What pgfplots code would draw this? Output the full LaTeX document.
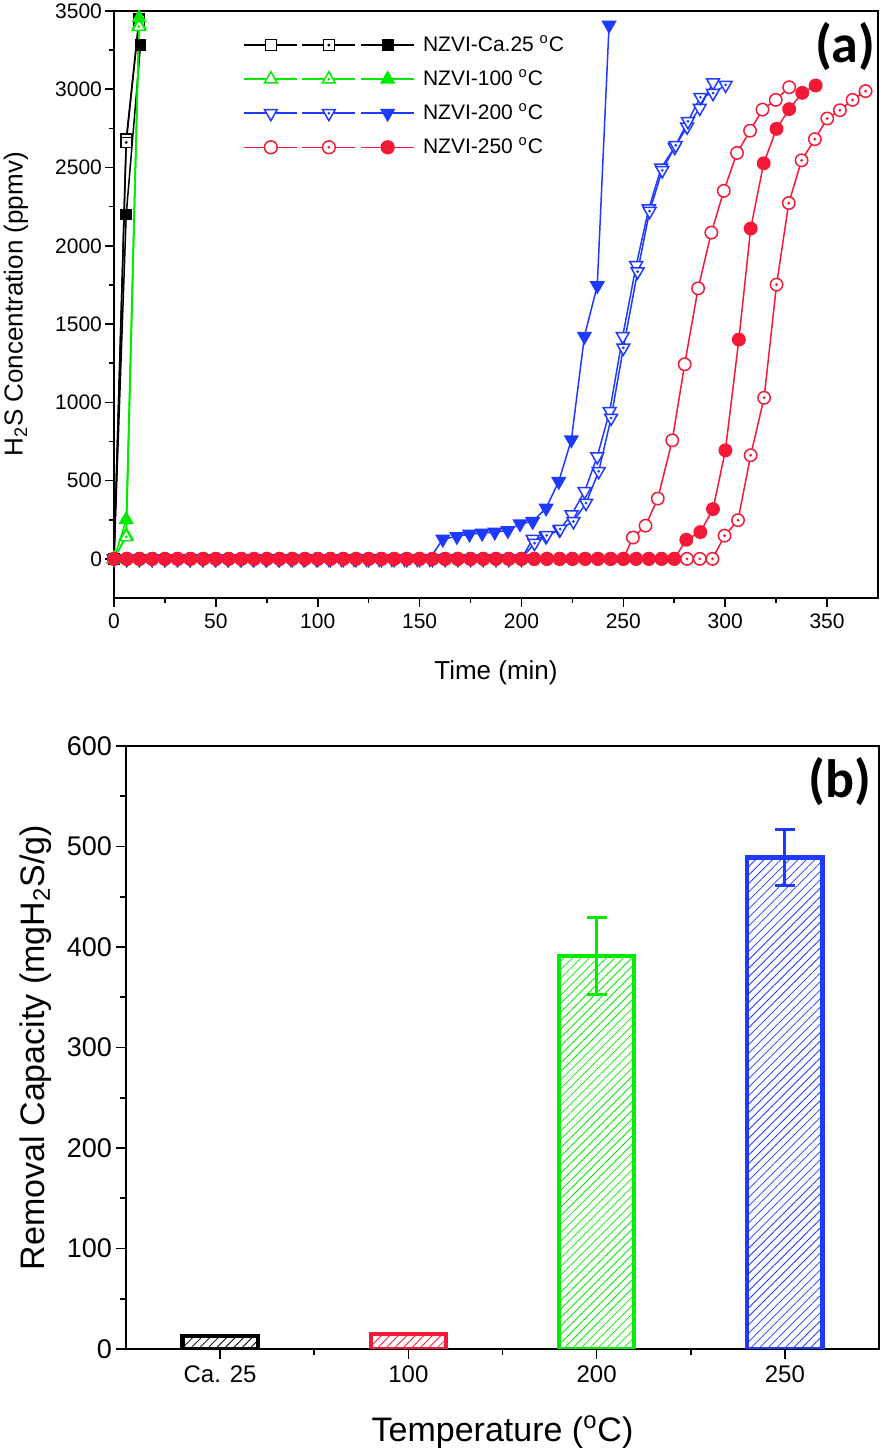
\documentclass[border=0pt]{standalone}
\usepackage{fontspec}
\setmainfont{Liberation Sans}
\newfontfamily\carlito{Carlito}
\usepackage{pgfplots}
\pgfplotsset{compat=1.18}
\usetikzlibrary{patterns.meta}
\definecolor{cRed}{RGB}{245,25,55}
\definecolor{cBlue}{RGB}{31,58,255}
\definecolor{cGreen}{RGB}{0,235,0}

\pgfdeclareplotmark{sqdot}{%
  \pgfpathrectangle{\pgfqpoint{-\pgfplotmarksize}{-\pgfplotmarksize}}{\pgfqpoint{2\pgfplotmarksize}{2\pgfplotmarksize}}%
  \pgfusepathqfillstroke
  \pgfpathcircle{\pgfpointorigin}{0.25pt}\pgfusepathqstroke}
\pgfdeclareplotmark{tup}{%
  \pgfpathmoveto{\pgfqpointpolar{90}{1.16\pgfplotmarksize}}%
  \pgfpathlineto{\pgfqpointpolar{-30}{1.16\pgfplotmarksize}}%
  \pgfpathlineto{\pgfqpointpolar{210}{1.16\pgfplotmarksize}}%
  \pgfpathclose\pgfusepathqfillstroke}
\pgfdeclareplotmark{tupdot}{%
  \pgfpathmoveto{\pgfqpointpolar{90}{1.16\pgfplotmarksize}}%
  \pgfpathlineto{\pgfqpointpolar{-30}{1.16\pgfplotmarksize}}%
  \pgfpathlineto{\pgfqpointpolar{210}{1.16\pgfplotmarksize}}%
  \pgfpathclose\pgfusepathqfillstroke
  \pgfpathcircle{\pgfpointorigin}{0.25pt}\pgfusepathqstroke}
\pgfdeclareplotmark{tdn}{%
  \pgfpathmoveto{\pgfqpointpolar{270}{1.16\pgfplotmarksize}}%
  \pgfpathlineto{\pgfqpointpolar{30}{1.16\pgfplotmarksize}}%
  \pgfpathlineto{\pgfqpointpolar{150}{1.16\pgfplotmarksize}}%
  \pgfpathclose\pgfusepathqfillstroke}
\pgfdeclareplotmark{tdndot}{%
  \pgfpathmoveto{\pgfqpointpolar{270}{1.16\pgfplotmarksize}}%
  \pgfpathlineto{\pgfqpointpolar{30}{1.16\pgfplotmarksize}}%
  \pgfpathlineto{\pgfqpointpolar{150}{1.16\pgfplotmarksize}}%
  \pgfpathclose\pgfusepathqfillstroke
  \pgfpathcircle{\pgfpointorigin}{0.25pt}\pgfusepathqstroke}
\pgfdeclareplotmark{cdot}{%
  \pgfpathcircle{\pgfpointorigin}{\pgfplotmarksize}%
  \pgfusepathqfillstroke
  \pgfpathcircle{\pgfpointorigin}{0.25pt}\pgfusepathqstroke}

\newcommand{\triple}[4]{%
  \draw[#1,line width=0.75pt,mark repeat=2,mark phase=2,#2] plot coordinates {(0pt,0pt) (13.3pt,0pt) (26.6pt,0pt)};
  \draw[#1,line width=0.75pt,mark repeat=2,mark phase=2,#3] plot coordinates {(29pt,0pt) (42.3pt,0pt) (55.6pt,0pt)};
  \draw[#1,line width=0.75pt,mark repeat=2,mark phase=2,#4] plot coordinates {(58.5pt,0pt) (71.7pt,0pt) (85pt,0pt)};
}

\begin{document}
\begin{tikzpicture}
\useasboundingbox (0,0) rectangle (446pt,727pt);
% ---------------- panel (a)
\begin{axis}[
  at={(57pt,428pt)}, anchor=south west, scale only axis,
  width=382pt, height=293.5pt,
  xmin=0, xmax=375, ymin=-250, ymax=3500,
  xtick={0,50,...,350}, ytick={0,500,...,3500},
  minor x tick num=1, minor y tick num=1,
  tick pos=left, tick align=outside,
  major tick length=4.5pt, minor tick length=2.5pt,
  axis line style={line width=0.9pt},
  every tick/.style={black, line width=0.8pt},
  ticklabel style={font=\fontsize{10.5}{12}\selectfont},
  yticklabel style={xshift=2pt},
  /pgf/number format/assume math mode=true,
  /pgf/number format/1000 sep={},
  xlabel={Time (min)},
  ylabel={H\textsubscript{2}S Concentration (ppmv)},
  label style={font=\fontsize{13}{15}\selectfont},
  xlabel style={at={(axis description cs:0.5,0)}, anchor=center, yshift=-37.5pt},
  ylabel style={at={(axis description cs:0,0.5)}, anchor=center, yshift=49pt},
  clip=false,
  legend style={draw=none, fill=none, at={(0.169,0.962)}, anchor=north west,
    font=\fontsize{10.5}{12}\selectfont, row sep=5.6pt, inner sep=0pt,
    nodes={inner sep=1pt},
    /tikz/every odd column/.append style={column sep=3pt}},
  legend cell align=left,
]
\addlegendimage{legend image code/.code={\triple{black}{mark=square*,mark size=2.7pt,mark options={fill=white}}{mark=sqdot,mark size=2.7pt,mark options={fill=white}}{mark=square*,mark size=2.7pt}}}
\addlegendentry{NZVI-Ca.25 \textsuperscript{o}C}
\addlegendimage{legend image code/.code={\triple{cGreen}{mark=tup,mark size=3.2pt,mark options={fill=white}}{mark=tupdot,mark size=3.2pt,mark options={fill=white}}{mark=tup,mark size=3.2pt}}}
\addlegendentry{NZVI-100 \textsuperscript{o}C}
\addlegendimage{legend image code/.code={\triple{cBlue}{mark=tdn,mark size=3.2pt,mark options={fill=white}}{mark=tdndot,mark size=3.2pt,mark options={fill=white}}{mark=tdn,mark size=3.2pt}}}
\addlegendentry{NZVI-200 \textsuperscript{o}C}
\addlegendimage{legend image code/.code={\triple{cRed}{mark=*,mark size=3.2pt,mark options={fill=white}}{mark=cdot,mark size=3.2pt,mark options={fill=white}}{mark=*,mark size=3.2pt}}}
\addlegendentry{NZVI-250 \textsuperscript{o}C}

% NZVI-Ca.25
\addplot[black, line width=0.75pt, mark=square*, mark size=2.6pt, mark options={fill=white}, forget plot]
 coordinates {(0,0) (6,2680) (12.3,3450)};
\addplot[black, line width=0.75pt, mark=sqdot, mark size=2.6pt, mark options={fill=white}, forget plot]
 coordinates {(0,0) (6,2660) (12.3,3440)};
\addplot[black, line width=0.75pt, mark=square*, mark size=2.6pt, forget plot]
 coordinates {(0,0) (6,2200) (13,3280)};
% NZVI-100
\addplot[cGreen, line width=0.75pt, mark=tup, mark size=3.2pt, mark options={fill=white}, forget plot]
 coordinates {(0,0) (6,150) (12.3,3410)};
\addplot[cGreen, line width=0.75pt, mark=tupdot, mark size=3.2pt, mark options={fill=white}, forget plot]
 coordinates {(0,0) (6,140) (12.3,3400)};
\addplot[cGreen, line width=0.75pt, mark=tup, mark size=3.2pt, forget plot]
 coordinates {(0,0) (6,250) (12.3,3455)};
% NZVI-200
\addplot[cBlue, line width=0.75pt, mark=tdn, mark size=3.2pt, mark options={fill=white}, forget plot]
 coordinates {(0,0) (6.25,0) (12.5,0) (18.75,0) (25,0) (31.25,0) (37.5,0) (43.75,0) (50,0) (56.25,0) (62.5,0) (68.75,0) (75,0) (81.25,0) (87.5,0) (93.75,0) (100,0) (106.25,0) (112.5,0) (118.75,0) (125,0) (131.25,0) (137.5,0) (143.75,0) (150,0) (156.25,0) (162.5,0) (168.75,0) (175,0) (181.25,0) (187.5,0) (193.75,0) (200,0)
 (205.5,126) (212,143) (218.6,186) (224.6,282) (231,431) (237.2,654) (243.3,943) (249.7,1422) (256.3,1875) (262.5,2237) (268.6,2498) (275.2,2630) (281.3,2760) (287.5,2880) (294,3043)};
\addplot[cBlue, line width=0.75pt, mark=tdndot, mark size=3.2pt, mark options={fill=white}, forget plot]
 coordinates {(0,0) (6.25,0) (12.5,0) (18.75,0) (25,0) (31.25,0) (37.5,0) (43.75,0) (50,0) (56.25,0) (62.5,0) (68.75,0) (75,0) (81.25,0) (87.5,0) (93.75,0) (100,0) (106.25,0) (112.5,0) (118.75,0) (125,0) (131.25,0) (137.5,0) (143.75,0) (150,0) (156.25,0) (162.5,0) (168.75,0) (175,0) (181.25,0) (187.5,0) (193.75,0) (200,0)
 (206.4,100) (212.4,150) (219,190) (225.5,239) (231.7,356) (237.9,559) (244,900) (250,1348) (257,1835) (262.9,2221) (269.1,2482) (275.7,2642) (281.7,2795) (287.8,2949) (294,2975) (300.2,3027)};
\addplot[cBlue, line width=0.75pt, mark=tdn, mark size=3.2pt, forget plot]
 coordinates {(0,0) (6.2,0) (12.4,0) (18.6,0) (24.8,0) (31,0) (37.2,0) (43.4,0) (49.6,0) (55.8,0) (62,0) (68.2,0) (74.4,0) (80.6,0) (86.8,0) (93,0) (99.2,0) (105.4,0) (111.6,0) (117.8,0) (124,0) (130.2,0) (136.4,0) (142.6,0) (148.8,0) (155,0)
 (161.4,126) (168.3,143) (174.5,158) (180.7,164) (186.9,171) (193.3,181) (199.3,224) (205.5,239) (212.1,324) (218.3,495) (224.5,761) (230.9,1422) (237.2,1745) (243,3410)};
% NZVI-250
\addplot[cRed, line width=0.75pt, mark=*, mark size=3.1pt, mark options={fill=white}, forget plot]
 coordinates {(0,0) (6.25,0) (12.5,0) (18.75,0) (25,0) (31.25,0) (37.5,0) (43.75,0) (50,0) (56.25,0) (62.5,0) (68.75,0) (75,0) (81.25,0) (87.5,0) (93.75,0) (100,0) (106.25,0) (112.5,0) (118.75,0) (125,0) (131.25,0) (137.5,0) (143.75,0) (150,0) (156.25,0) (162.5,0) (168.75,0) (175,0) (181.25,0) (187.5,0) (193.75,0) (200,0) (206.25,0) (212.5,0) (218.75,0) (225,0) (231.25,0) (237.5,0) (243.75,0) (250,0)
 (254.7,136) (260.9,212) (266.9,385) (274,757) (280.1,1243) (286.7,1728) (293.2,2084) (299.3,2351) (305.8,2593) (312.2,2735) (318.3,2870) (324.8,2932) (331.4,3013)};
\addplot[cRed, line width=0.75pt, mark=cdot, mark size=3.1pt, mark options={fill=white}, forget plot]
 coordinates {(0,0) (6.25,0) (12.5,0) (18.75,0) (25,0) (31.25,0) (37.5,0) (43.75,0) (50,0) (56.25,0) (62.5,0) (68.75,0) (75,0) (81.25,0) (87.5,0) (93.75,0) (100,0) (106.25,0) (112.5,0) (118.75,0) (125,0) (131.25,0) (137.5,0) (143.75,0) (150,0) (156.25,0) (162.5,0) (168.75,0) (175,0) (181.25,0) (187.5,0) (193.75,0) (200,0) (206.25,0) (212.5,0) (218.75,0) (225,0) (231.25,0) (237.5,0) (243.75,0) (250,0) (256.25,0) (262.5,0) (268.75,0) (275,0) (281.25,0) (287.5,0) (293.75,0)
 (299.7,148) (306.3,247) (312.5,662) (319.1,1029) (325.2,1752) (331.2,2273) (337.5,2546) (344,2681) (350.1,2813) (356.3,2866) (362.5,2932) (368.9,2988)};
\addplot[cRed, line width=0.75pt, mark=*, mark size=3.1pt, forget plot]
 coordinates {(0,0) (6.25,0) (12.5,0) (18.75,0) (25,0) (31.25,0) (37.5,0) (43.75,0) (50,0) (56.25,0) (62.5,0) (68.75,0) (75,0) (81.25,0) (87.5,0) (93.75,0) (100,0) (106.25,0) (112.5,0) (118.75,0) (125,0) (131.25,0) (137.5,0) (143.75,0) (150,0) (156.25,0) (162.5,0) (168.75,0) (175,0) (181.25,0) (187.5,0) (193.75,0) (200,0) (206.25,0) (212.5,0) (218.75,0) (225,0) (231.25,0) (237.5,0) (243.75,0) (250,0) (256.25,0) (262.5,0) (268.75,0) (275,0)
 (280.9,122) (287.8,171) (294,318) (300.1,693) (306.7,1401) (312.5,2110) (318.9,2527) (325.2,2747) (331.4,2873) (337.8,2977) (344.4,3024)};
\node[anchor=north east, font=\carlito\bfseries\fontsize{27}{29}\selectfont, inner sep=0pt] at (rel axis cs:0.997,0.982) {(a)};
\end{axis}

% ---------------- panel (b)
\begin{axis}[
  at={(63pt,52.5pt)}, anchor=south west, scale only axis,
  width=376.5pt, height=301.5pt,
  xmin=-0.5, xmax=3.5, ymin=0, ymax=600,
  xtick={0,1,2,3}, xticklabels={Ca. 25,100,200,250},
  minor xtick={0.5,1.5,2.5},
  ytick={0,100,...,600}, minor y tick num=1,
  tick pos=left, tick align=outside,
  major tick length=5pt, minor tick length=3pt,
  axis line style={line width=0.9pt},
  every tick/.style={black, line width=0.8pt},
  xticklabel style={font=\fontsize{12}{14}\selectfont},
  yticklabel style={font=\fontsize{13.5}{15}\selectfont, xshift=1.5pt},
  /pgf/number format/assume math mode=true,
  xlabel={Temperature (\textsuperscript{o}C)},
  ylabel={Removal Capacity (mgH\textsubscript{2}S/g)},
  label style={font=\fontsize{17}{19}\selectfont},
  xlabel style={at={(axis description cs:0.5,0)}, anchor=center, yshift=-41.5pt},
  ylabel style={at={(axis description cs:0,0.5)}, anchor=center, yshift=45pt},
]
\addplot[ybar, bar width=0.4, bar shift=0pt, draw=black, line width=2.2pt,
  pattern={Lines[angle=45,distance=3pt,line width=0.4pt]}, pattern color=black]
  coordinates {(0,13)};
\addplot[ybar, bar width=0.4, bar shift=0pt, draw=cRed, line width=2.2pt,
  pattern={Lines[angle=45,distance=3pt,line width=0.4pt]}, pattern color=cRed]
  coordinates {(1,15)};
\addplot[ybar, bar width=0.4, bar shift=0pt, draw=cGreen, line width=2.2pt,
  pattern={Lines[angle=45,distance=3pt,line width=0.4pt]}, pattern color=cGreen,
  error bars/.cd, y dir=both, y explicit,
  error bar style={cGreen, line width=1.5pt},
  error mark options={cGreen, line width=1.5pt, mark size=5pt, rotate=90}]
  coordinates {(2,391) +- (0,38)};
\addplot[ybar, bar width=0.4, bar shift=0pt, draw=cBlue, line width=2.2pt,
  pattern={Lines[angle=45,distance=3pt,line width=0.4pt]}, pattern color=cBlue,
  error bars/.cd, y dir=both, y explicit,
  error bar style={cBlue, line width=1.5pt},
  error mark options={cBlue, line width=1.5pt, mark size=5pt, rotate=90}]
  coordinates {(3,489) +- (0,28)};
\node[anchor=north east, font=\carlito\bfseries\fontsize{27}{29}\selectfont, inner sep=0pt] at (rel axis cs:0.99,0.982) {(b)};
\end{axis}
\end{tikzpicture}
\end{document}
